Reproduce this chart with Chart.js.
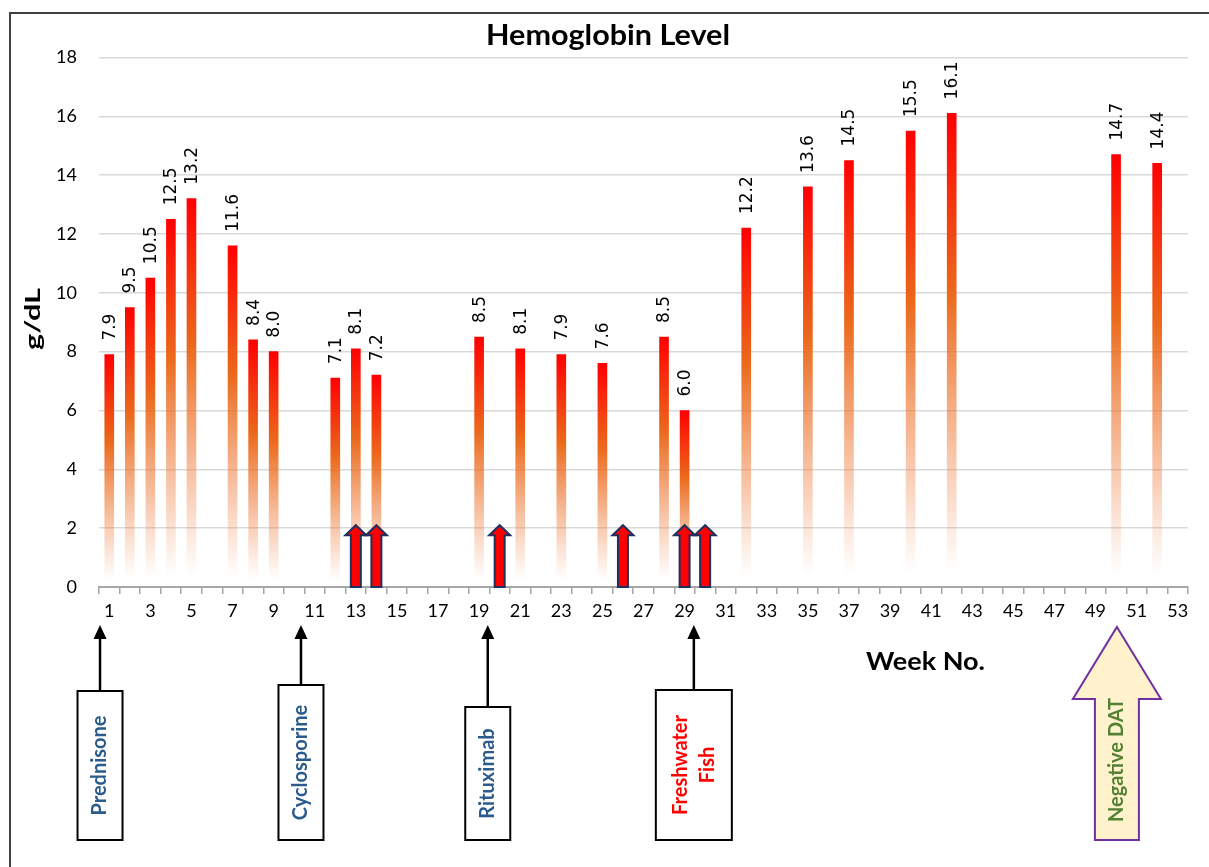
<!DOCTYPE html>
<html><head><meta charset="utf-8">
<script src="https://cdn.jsdelivr.net/npm/chart.js@4.4.1/dist/chart.umd.min.js"></script>
<style>
html,body{margin:0;padding:0;background:#fff;overflow:hidden;width:1209px;height:867px;}
#frame{position:absolute;left:9px;top:12px;width:1400px;height:1000px;border-left:2px solid #404040;border-top:2px solid #404040;}
canvas{position:absolute;left:0;top:0;}
</style></head><body>
<div id="frame"></div>
<canvas id="c" width="1209" height="867"></canvas>
<script>
// ---- data ----
const weekLabels = ['1','2','3','4','5','6','7','8','9','10','11','12','13','14','15','16','17','18','19','20',
  '21','22','23','24','25','26','27','28','29','30','31','32','33','34','35','36','37','38','39','40',
  '41','42','43','44','45','46','47','48','49','50','51','52','53'];
const weeks = [1,2,3,4,5,7,8,9,12,13,14,19,21,23,25,28,29,32,35,37,40,42,50,52];
const hemoglobin = [7.9,9.5,10.5,12.5,13.2,11.6,8.4,8.0,7.1,8.1,7.2,8.5,8.1,7.9,7.6,8.5,6.0,12.2,13.6,14.5,15.5,16.1,14.7,14.4];
const yTicks = [0,2,4,6,8,10,12,14,16,18];
const doseWeeks = [13,14,20,26,29,30];
const doseArrowValue = 2.1;
const eventNames = [['Prednisone'],['Cyclosporine'],['Rituximab'],['Freshwater','Fish']];
const eventWeeks = [0.55,10.33,19.42,29.45];
const eventColors = ['#2B5B8C','#2B5B8C','#2B5B8C','#FF0000'];
const datName = 'Negative DAT';
const datWeek = 50.04;

// ---- layout / styles ----
const boxTops = [691,685,707,690];
const boxWidths = [45,45,45,76];
const boxBottom = 840;
const arrowTipY = 625;

const seriesData = weekLabels.map(l => {
  const k = weeks.indexOf(Number(l));
  return k >= 0 ? hemoglobin[k] : null;
});

function barGradient(c) {
  const chart = c.chart;
  if (!chart.chartArea || c.type !== 'data' || c.raw == null) return '#FF0000';
  const y = chart.scales.y;
  const top = y.getPixelForValue(c.raw), base = y.getPixelForValue(0);
  const g = chart.ctx.createLinearGradient(0, top, 0, base);
  g.addColorStop(0, '#FF0000');
  g.addColorStop(0.38, '#EB6A1C');
  g.addColorStop(0.97, 'rgba(240,130,70,0)');
  g.addColorStop(1, 'rgba(255,255,255,0)');
  return g;
}

function fittedText(ctx, text, x, y, font, width, rot, color, baseline) {
  ctx.save();
  ctx.font = font;
  ctx.fillStyle = color || '#000';
  ctx.textAlign = 'center';
  ctx.textBaseline = baseline || 'alphabetic';
  ctx.translate(x, y);
  if (rot) ctx.rotate(rot);
  const w = ctx.measureText(text).width;
  if (width) ctx.scale(width / w, 1);
  ctx.fillText(text, 0, 0);
  ctx.restore();
}

const overlay = {
  id: 'overlay',
  afterDatasetsDraw(chart) {
    const ctx = chart.ctx, xs = chart.scales.x, ys = chart.scales.y;
    // value labels
    const meta = chart.getDatasetMeta(0);
    ctx.save();
    ctx.font = '17px "DejaVu Sans"';
    ctx.fillStyle = '#000';
    meta.data.forEach((el, i) => {
      const v = seriesData[i];
      if (v == null) return;
      ctx.save();
      ctx.translate(el.x + 1, el.y - 14);
      ctx.rotate(-Math.PI / 2);
      ctx.textAlign = 'left';
      ctx.textBaseline = 'middle';
      ctx.fillText(v.toFixed(1), 0, 0);
      ctx.restore();
    });
    ctx.restore();
    // dose arrows
    const base = ys.getPixelForValue(0), tip = ys.getPixelForValue(doseArrowValue);
    doseWeeks.forEach(w => {
      const x = xs.getPixelForValue(w - 1);
      const sw = 5, hw = 10.5, hh = 10;
      ctx.save();
      ctx.beginPath();
      ctx.moveTo(x - sw, base);
      ctx.lineTo(x - sw, tip + hh);
      ctx.lineTo(x - hw, tip + hh);
      ctx.lineTo(x, tip);
      ctx.lineTo(x + hw, tip + hh);
      ctx.lineTo(x + sw, tip + hh);
      ctx.lineTo(x + sw, base);
      ctx.closePath();
      ctx.fillStyle = '#FF0000';
      ctx.fill();
      ctx.lineWidth = 2;
      ctx.lineJoin = 'miter';
      ctx.strokeStyle = '#1F3060';
      ctx.stroke();
      ctx.restore();
    });
  },
  afterDraw(chart) {
    const ctx = chart.ctx, xs = chart.scales.x;
    // titles
    fittedText(ctx, 'Hemoglobin Level', 608, 45, 'bold 29px Lato', 244, 0, '#000');
    fittedText(ctx, 'Week No.', 925.5, 670, 'bold 25px Lato', 119, 0, '#000');
    fittedText(ctx, 'g/dL', 33, 319, 'bold 21px Lato', 62, -Math.PI / 2, '#000', 'middle');
    // event boxes with arrows
    eventNames.forEach((lines, i) => {
      const x = xs.getPixelForValue(eventWeeks[i] - 1);
      const top = boxTops[i], bw = boxWidths[i];
      ctx.save();
      ctx.strokeStyle = '#000';
      ctx.lineWidth = 2.5;
      ctx.beginPath();
      ctx.moveTo(x, top);
      ctx.lineTo(x, arrowTipY + 12);
      ctx.stroke();
      ctx.beginPath();
      ctx.moveTo(x, arrowTipY);
      ctx.lineTo(x - 6.5, arrowTipY + 14);
      ctx.lineTo(x + 6.5, arrowTipY + 14);
      ctx.closePath();
      ctx.fillStyle = '#000';
      ctx.fill();
      ctx.fillStyle = '#fff';
      ctx.fillRect(x - bw / 2, top, bw, boxBottom - top);
      ctx.lineWidth = 2;
      ctx.strokeRect(x - bw / 2, top, bw, boxBottom - top);
      ctx.restore();
      const cy = (top + boxBottom) / 2;
      const n = lines.length, lh = 26.7;
      lines.forEach((t, j) => {
        const off = (j - (n - 1) / 2) * lh;
        fittedText(ctx, t, x + off, cy, 'bold 20px Lato', null, -Math.PI / 2, eventColors[i], 'middle');
      });
    });
    // Negative DAT block arrow
    const dx = xs.getPixelForValue(datWeek - 1);
    const tipY = 627, headY = 699, hw = 44, sw = 22;
    ctx.save();
    ctx.beginPath();
    ctx.moveTo(dx, tipY);
    ctx.lineTo(dx + hw, headY);
    ctx.lineTo(dx + sw, headY);
    ctx.lineTo(dx + sw, boxBottom);
    ctx.lineTo(dx - sw, boxBottom);
    ctx.lineTo(dx - sw, headY);
    ctx.lineTo(dx - hw, headY);
    ctx.closePath();
    ctx.fillStyle = '#FFF2CC';
    ctx.fill();
    ctx.strokeStyle = '#7030A0';
    ctx.lineWidth = 2;
    ctx.stroke();
    ctx.restore();
    fittedText(ctx, datName, dx, 760, 'bold 20px Lato', null, -Math.PI / 2, '#548235', 'middle');
  }
};

new Chart(document.getElementById('c'), {
  type: 'bar',
  data: {
    labels: weekLabels,
    datasets: [{
      label: 'Hemoglobin',
      data: seriesData,
      backgroundColor: barGradient,
      barThickness: 9,
      borderWidth: 0
    }]
  },
  options: {
    responsive: false,
    animation: false,
    devicePixelRatio: 1,
    layout: { padding: { top: 57.5, right: 21, left: 0, bottom: 0 } },
    plugins: { legend: { display: false }, title: { display: false }, tooltip: { enabled: false } },
    scales: {
      x: {
        type: 'category',
        offset: true,
        grid: { offset: true, drawOnChartArea: false, drawTicks: true, tickLength: 7, color: '#A6A6A6', lineWidth: 1.5 },
        border: { display: true, color: '#A6A6A6', width: 2 },
        ticks: {
          autoSkip: false, maxRotation: 0, minRotation: 0, padding: 6,
          color: '#000', font: { family: 'Lato', size: 18 },
          callback: (v, i) => (i % 2 === 0 ? weekLabels[i] : '')
        },
        afterFit: s => { s.height = 280; }
      },
      y: {
        min: 0, max: 18,
        afterBuildTicks: s => { s.ticks = yTicks.map(v => ({ value: v })); },
        grid: { color: '#D9D9D9', lineWidth: 1.5, drawTicks: false },
        border: { display: false },
        ticks: { padding: 22, color: '#000', font: { family: 'Lato', size: 18 } },
        afterFit: s => { s.width = 99; }
      }
    }
  },
  plugins: [overlay]
});
</script>
</body></html>
